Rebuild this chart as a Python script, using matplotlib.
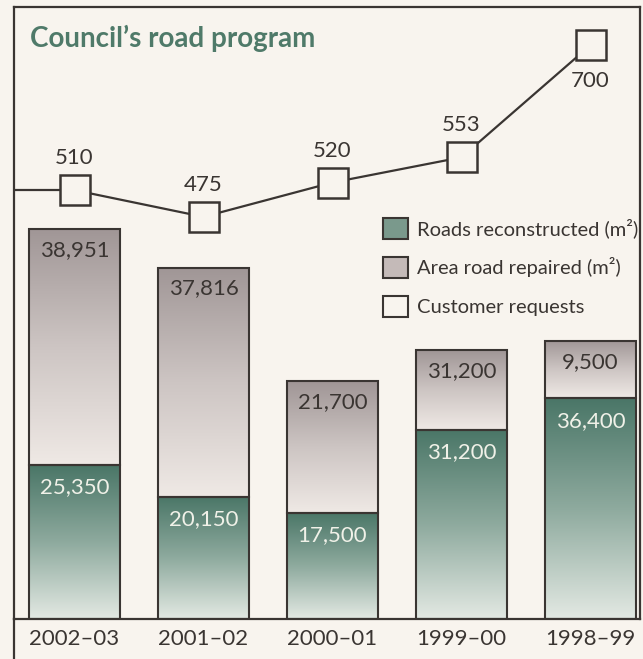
import matplotlib
matplotlib.use('Agg')
import matplotlib.pyplot as plt
import numpy as np
from matplotlib.colors import LinearSegmentedColormap
from matplotlib.patches import Patch
from matplotlib.lines import Line2D

years = ['2002–03', '2001–02', '2000–01', '1999–00', '1998–99']
reconstructed = [25350, 20150, 17500, 31200, 36400]
# 1999-00 repaired bar is drawn much shorter than its printed label
repaired = [38951, 37816, 21700, 13200, 9500]
repaired_labels = ['38,951', '37,816', '21,700', '31,200', '9,500']
reconstructed_labels = ['25,350', '20,150', '17,500', '31,200', '36,400']
requests = [510, 475, 520, 553, 700]

paper = '#f8f4ee'
ink = '#3a3532'
teal_title = '#4f7a69'
green_cmap = LinearSegmentedColormap.from_list('g', ['#e3e9e3', '#8eaa9e', '#4a7667'])
mauve_cmap = LinearSegmentedColormap.from_list('m', ['#efe9e5', '#cdc5c3', '#a09696'])

plt.rcParams['font.family'] = ['Lato', 'DejaVu Sans']

W, H = 643, 659
fig = plt.figure(figsize=(W / 100, H / 100), dpi=100, facecolor=paper)
ax = fig.add_axes([14 / W, 40 / H, 626 / W, 612 / H])
ax.set_facecolor(paper)

x = np.arange(len(years))
bw = 0.705


def gradient_bar(xc, bottom, height, cmap):
    rect = ax.bar(xc, height, bw, bottom=bottom, color='none',
                  edgecolor=ink, linewidth=1.5, zorder=3)[0]
    grad = np.linspace(0, 1, 256).reshape(-1, 1)
    im = ax.imshow(grad, cmap=cmap, aspect='auto', origin='lower',
                   extent=[xc - bw / 2, xc + bw / 2, bottom, bottom + height],
                   zorder=2)
    im.set_clip_path(rect)


for i in range(len(years)):
    gradient_bar(x[i], 0, reconstructed[i], green_cmap)
    gradient_bar(x[i], reconstructed[i], repaired[i], mauve_cmap)
    ax.annotate(reconstructed_labels[i], (x[i], reconstructed[i]),
                xytext=(0, -16), textcoords='offset points',
                ha='center', va='center', fontsize=16, color='#f0f1e8', zorder=4)
    ax.annotate(repaired_labels[i], (x[i], reconstructed[i] + repaired[i]),
                xytext=(0, -15), textcoords='offset points',
                ha='center', va='center', fontsize=16, color=ink, zorder=4)

ax.set_xlim(-60.5 / 129, (626 - 60.5) / 129)
ax.set_ylim(0, 612 * 165)
ax.set_xticks(x, years, fontsize=16, color=ink)
ax.tick_params(axis='x', length=0, pad=7)
ax.set_yticks([])
for s in ax.spines.values():
    s.set_color(ink)
    s.set_linewidth(1.6)

# left frame line continues below the baseline
fig.add_artist(Line2D([14 / W, 14 / W], [0, 40 / H], color=ink, lw=1.6))

ax2 = ax.twinx()
ax2.set_ylim(-52, 750)
ax2.set_yticks([])
for s in ax2.spines.values():
    s.set_visible(False)
xl = ax.get_xlim()
ax2.plot([xl[0], x[0]], [requests[0], requests[0]], color=ink, lw=1.6, zorder=1)
ax2.plot(x, requests, color=ink, lw=1.6, marker='s', markersize=22,
         markerfacecolor=paper, markeredgecolor=ink, markeredgewidth=1.8)
for i, v in enumerate(requests):
    off = -26 if i == len(requests) - 1 else 23
    ax2.annotate(str(v), (x[i], v), xytext=(0, off), textcoords='offset points',
                 ha='center', va='center', fontsize=16, color=ink)
ax2.set_xlim(xl)

fig.text(30 / W, 1 - 47 / H, 'Council’s road program', fontsize=20,
         fontweight='bold', color=teal_title, va='baseline')

handles = [Patch(facecolor='#7a998c', edgecolor=ink, linewidth=1.5),
           Patch(facecolor='#c4bab8', edgecolor=ink, linewidth=1.5),
           Patch(facecolor=paper, edgecolor=ink, linewidth=1.5)]
labels = ['Roads reconstructed (m²)', 'Area road repaired (m²)', 'Customer requests']
fig.legend(handles, labels, loc='upper left', bbox_to_anchor=(383 / W, 1 - 218 / H),
           frameon=False, fontsize=14.5, handlelength=1.25, handleheight=1.25,
           handletextpad=0.45, labelspacing=0.87, borderpad=0, borderaxespad=0,
           labelcolor=ink)

fig.savefig('out.png', dpi=100, facecolor=paper)
